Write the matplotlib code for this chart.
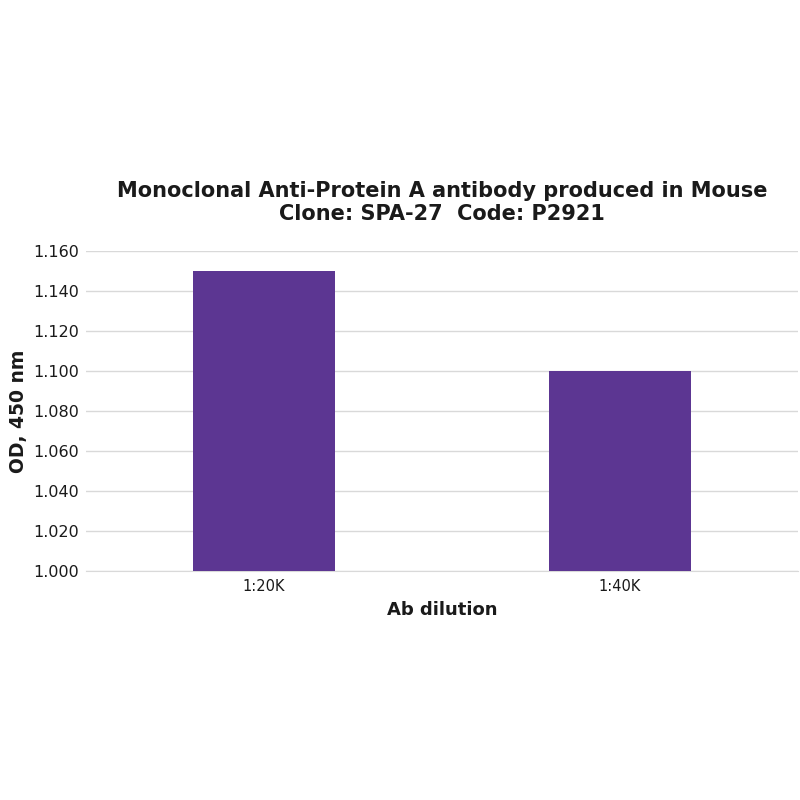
import matplotlib
matplotlib.use("Agg")
import matplotlib.pyplot as plt

# -----------------------------------------------------------------------
# Data
# -----------------------------------------------------------------------
dilutions = ["1:20K", "1:40K"]
od_450 = [1.150, 1.100]
y_ticks = [1.000, 1.020, 1.040, 1.060, 1.080, 1.100, 1.120, 1.140, 1.160]

bar_color = "#5c3692"
grid_color = "#d9d9d9"
text_color = "#1a1a1a"

fig = plt.figure(figsize=(8, 8), dpi=100)
ax = fig.add_axes([0.1075, 0.28625, 0.89, 0.4])

ax.bar(range(len(dilutions)), od_450, width=0.4, color=bar_color, zorder=3)

ax.set_xlim(-0.5, 1.5)
ax.set_ylim(y_ticks[0], y_ticks[-1])
ax.set_yticks(y_ticks)
ax.set_yticklabels([f"{v:.3f}" for v in y_ticks], fontsize=11.5, color=text_color)
ax.set_xticks(range(len(dilutions)))
ax.set_xticklabels(dilutions, fontsize=10.5, color=text_color)

ax.grid(axis="y", color=grid_color, linewidth=1, zorder=0)
for side in ["top", "right", "left"]:
    ax.spines[side].set_visible(False)
ax.spines["bottom"].set_color(grid_color)
ax.tick_params(axis="y", length=0, pad=5)
ax.tick_params(axis="x", length=0, pad=6)

ax.set_xlabel("Ab dilution", fontsize=13, fontweight="bold", color=text_color, labelpad=5)
ax.set_ylabel("OD, 450 nm", fontsize=13.5, fontweight="bold", color=text_color, labelpad=4)
ax.set_title("Monoclonal Anti-Protein A antibody produced in Mouse\nClone: SPA-27  Code: P2921",
             fontsize=15, fontweight="bold", color=text_color, pad=22, linespacing=1.2)

fig.savefig("out.png", dpi=100)
